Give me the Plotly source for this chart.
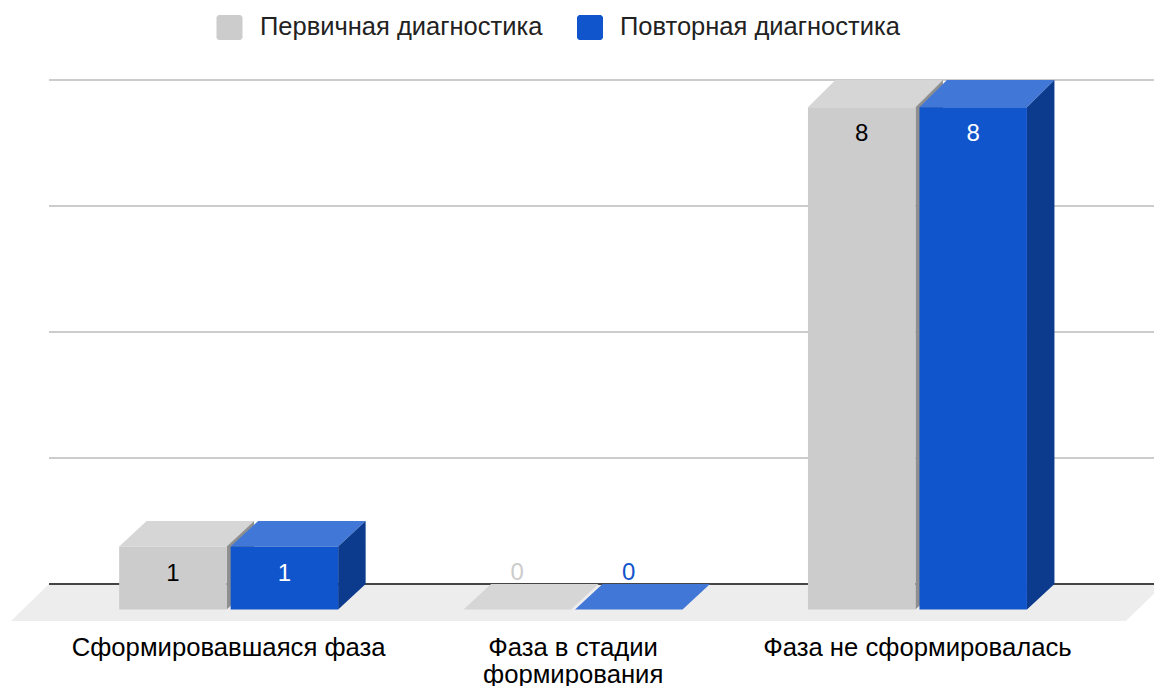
import plotly.graph_objects as go

categories = ["Сформировавшаяся фаза", "Фаза в стадии<br>формирования", "Фаза не сформировалась"]
series_names = ["Первичная диагностика", "Повторная диагностика"]
primary_values = [1, 0, 8]
repeat_values = [1, 0, 8]
y_ticks = [0, 2, 4, 6, 8]

W, H = 1154, 686
PLOT_L, PLOT_R, PLOT_T, PLOT_B = 49, 1154, 70, 621
X0_PX, X_UNIT = 228.65, 344.4   # pixel of category 0, pixels per category
Y0_PX, Y_UNIT = 584.0, 63.0     # pixel of value 0, pixels per value

BAR_W = 107.5 / X_UNIT
GAP = 4.0 / X_UNIT
DEPTH_X = 27.5 / X_UNIT
DEPTH_Y = 25.4 / Y_UNIT
FRONT_SCALE = 0.9965

GRAY = dict(front="#cccccc", top="#d6d6d6", side="#8f8f8f", label="#000000", zero="#cccccc")
BLUE = dict(front="#1155cc", top="#4178d7", side="#0c3a8c", label="#ffffff", zero="#1155cc")


def poly(xs, ys, color, name):
    return go.Scatter(x=xs + xs[:1], y=ys + ys[:1], mode="lines", fill="toself", fillcolor=color,
                      line=dict(width=0, color=color), hoverinfo="skip", showlegend=False,
                      cliponaxis=False, name=name)


def xp(px):
    return (px - PLOT_L) / (PLOT_R - PLOT_L)


def yp(py):
    return (PLOT_B - py) / (PLOT_B - PLOT_T)


def path(points):
    return "M" + " L".join(f"{xp(a):.5f},{yp(b):.5f}" for a, b in points) + " Z"


fig = go.Figure()

labels = []
for name, values, col, off in (
    (series_names[0], primary_values, GRAY, -GAP / 2 - BAR_W),
    (series_names[1], repeat_values, BLUE, GAP / 2),
):
    lab_x, lab_y, lab_c = [], [], []
    for i, v in enumerate(values):
        xl = i + off
        xr = xl + BAR_W
        fb = -DEPTH_Y
        ft = -DEPTH_Y + v * FRONT_SCALE
        fig.add_trace(poly([xl, xr, xr + DEPTH_X, xl + DEPTH_X], [ft, ft, v, v], col["top"], name))
        if v > 0:
            fig.add_trace(poly([xr, xr + DEPTH_X, xr + DEPTH_X, xr], [fb, 0.0, v, ft], col["side"], name))
            fig.add_trace(poly([xl, xr, xr, xl], [fb, fb, ft, ft], col["front"], name))
        lab_x.append((xl + xr) / 2)
        lab_y.append(ft - 28 / Y_UNIT if v > 0 else ft + 35.5 / Y_UNIT)
        lab_c.append(col["label"] if v > 0 else col["zero"])
    labels.append(go.Scatter(x=lab_x, y=lab_y, mode="text", text=[str(v) for v in values],
                             textposition="middle center", cliponaxis=False, showlegend=False,
                             hoverinfo="skip", name=name,
                             textfont=dict(family="Liberation Sans", size=24, color=lab_c)))
for t in labels:
    fig.add_trace(t)

# floor of the 3D box
shapes = [dict(type="path", xref="paper", yref="paper", layer="below",
               path=path([(11, 621), (1126, 621), (1164, 584), (49, 584)]),
               fillcolor="#ededed", line=dict(width=0))]
annotations = []
for name, col, sx, tx in ((series_names[0], GRAY, 216.5, 258), (series_names[1], BLUE, 577, 618)):
    r = 2
    s0, s1, t0, t1 = sx, sx + 26, 15, 40
    shapes.append(dict(type="path", xref="paper", yref="paper",
                       path=path([(s0 + r, t0), (s1 - r, t0), (s1, t0 + r), (s1, t1 - r),
                                  (s1 - r, t1), (s0 + r, t1), (s0, t1 - r), (s0, t0 + r)]),
                       fillcolor=col["front"], line=dict(width=0)))
    annotations.append(dict(xref="paper", yref="paper", x=xp(tx), y=yp(26.5), xanchor="left", yanchor="middle",
                            text=name, showarrow=False,
                            font=dict(family="Liberation Sans", size=25.5, color="#222222")))

# second line of the wrapped category label sits tighter than the default line height
tick_text = []
for i, c in enumerate(categories):
    parts = c.split("<br>")
    tick_text.append(parts[0])
    for extra in parts[1:]:
        annotations.append(dict(xref="x", yref="paper", x=i, y=yp(674), xanchor="center", yanchor="middle",
                                text=extra, showarrow=False,
                                font=dict(family="Liberation Sans", size=25.7, color="#000000")))

fig.update_layout(
    width=W, height=H, autosize=False, showlegend=False,
    margin=dict(l=PLOT_L, r=W - PLOT_R, t=PLOT_T, b=H - PLOT_B, pad=0),
    paper_bgcolor="white", plot_bgcolor="white",
    shapes=shapes, annotations=annotations,
    xaxis=dict(range=[(PLOT_L - X0_PX) / X_UNIT, (PLOT_R - X0_PX) / X_UNIT],
               tickmode="array", tickvals=[0, 1, 2], ticktext=tick_text,
               showgrid=False, zeroline=False, showline=False, ticks="", fixedrange=True,
               ticklabelstandoff=8,
               tickfont=dict(family="Liberation Sans", size=25.7, color="#000000"), tickangle=0),
    yaxis=dict(range=[(Y0_PX - PLOT_B) / Y_UNIT, (Y0_PX - PLOT_T) / Y_UNIT],
               tickmode="array", tickvals=y_ticks, showticklabels=False, ticks="",
               showgrid=True, gridcolor="#cccccc", gridwidth=2,
               zeroline=True, zerolinecolor="#444444", zerolinewidth=2, showline=False, fixedrange=True),
)

fig.write_html("out.html", config={"displayModeBar": False},
               post_script="document.body.style.margin='0';document.body.style.overflow='hidden';")
